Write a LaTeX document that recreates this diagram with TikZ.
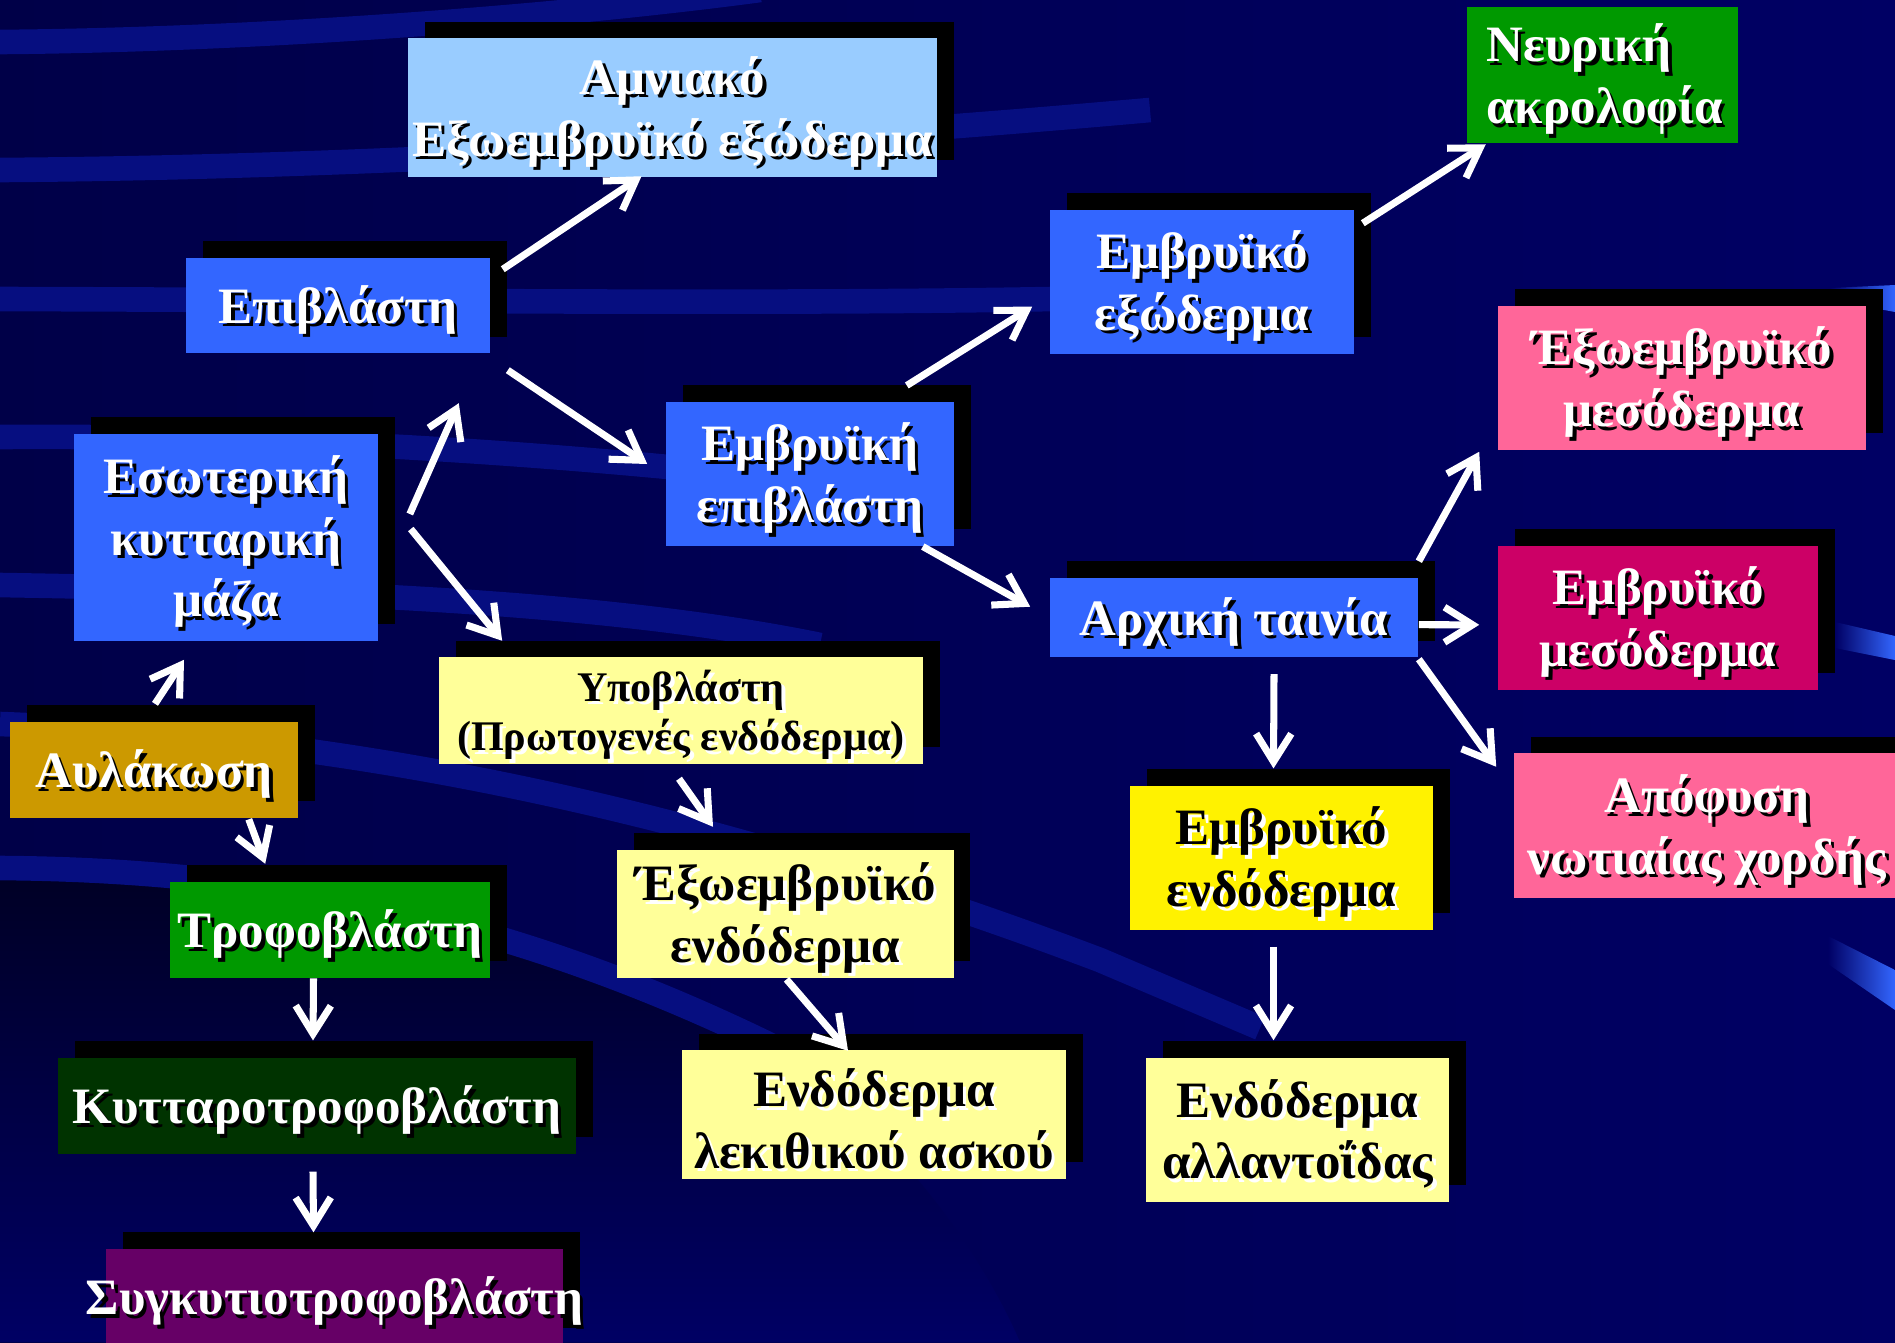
\documentclass[tikz,border=0pt]{standalone}
\usepackage{fontspec}
\setmainfont{Liberation Serif}
\usetikzlibrary{arrows.meta,shadows}
\definecolor{bgnavy}{RGB}{0,0,100}
\definecolor{bgdeep}{RGB}{0,0,72}
\definecolor{bgband}{RGB}{6,14,128}
\definecolor{bgdark}{RGB}{0,0,38}
\definecolor{boxblue}{HTML}{3366FF}
\definecolor{skyblue}{HTML}{99CCFF}
\definecolor{leafgreen}{HTML}{009900}
\definecolor{rosepink}{HTML}{FF6699}
\definecolor{crimson}{HTML}{CC0066}
\definecolor{paleyellow}{HTML}{FFFF99}
\definecolor{goldbox}{HTML}{CC9900}
\definecolor{darkgreen}{HTML}{003300}
\definecolor{plum}{HTML}{660066}
\colorlet{tshc}{black}
% text with a small drop shadow, set a little low
\newcommand\tsh[1]{\leavevmode\raisebox{-1.7pt}[\height][\depth]{\rlap{\kern1pt\raisebox{-1pt}{\color{tshc}#1}}#1}}
\begin{document}
\begin{tikzpicture}[x=0.01cm,y=-0.01cm]
\tikzstyle{bx} = [rectangle,inner sep=0pt,align=center,text=white,
  font=\bfseries\fontsize{14.5}{17.5}\selectfont,
  general shadow={fill=black,shadow xshift=4.8pt,shadow yshift=4.8pt}] %box
\tikzstyle{dk} = [text=black,execute at begin node={\colorlet{tshc}{white}}] %dark text
\tikzstyle{ar} = [white,line width=2pt,-{Straight Barb[length=8pt,width=10pt]}] %arrow
\tikzstyle{band} = [bgband,line width=7pt] %background band
\clip (0,0) rectangle (1895,1342);
% background
\shade[left color=bgdeep,right color=bgnavy] (0,0) rectangle (1895,1342);
\draw[band] (0,42) .. controls (250,40) and (550,18) .. (760,-10);
\draw[band] (0,170) .. controls (300,168) and (700,150) .. (1150,110);
\draw[band] (0,299) .. controls (400,300) and (800,305) .. (1100,298);
\draw[band] (0,437) .. controls (300,435) and (550,455) .. (720,472);
\draw[band] (0,585) .. controls (300,590) and (600,600) .. (820,645);
\draw[band] (0,724) .. controls (300,735) and (650,790) .. (1100,960) -- (1260,1028);
\shade[top color=bgdark,bottom color=bgnavy]
  (0,880) .. controls (300,882) and (550,940) .. (800,1070)
  .. controls (900,1140) and (980,1250) .. (1020,1342) -- (0,1342) -- cycle;
\draw[band] (0,868) .. controls (300,870) and (550,930) .. (820,1070);
\shade[left color=bgnavy,right color=boxblue] (1830,288) -- (1895,285) -- (1895,312) -- (1830,300) -- cycle;
\shade[left color=bgnavy,right color=boxblue] (1835,622) -- (1895,636) -- (1895,660) -- (1835,648) -- cycle;
\shade[left color=bgnavy,right color=boxblue] (1828,936) -- (1895,970) -- (1895,1010) -- (1828,964) -- cycle;
% boxes
\node[bx,fill=skyblue,minimum width=5.29cm,minimum height=1.38cm](amn)at(672.5,107.5){\tsh{Αμνιακό}\\\tsh{Εξωεμβρυϊκό εξώδερμα}};
\node[rectangle,fill=leafgreen,text=white,inner xsep=5.4pt,inner ysep=0pt,text width=66pt,align=left,
  minimum height=1.35cm,font=\bfseries\fontsize{14.5}{17.5}\selectfont](neur)at(1602.5,75){\tsh{Νευρική}\\\tsh{ακρολοφία}};
\node[bx,fill=boxblue,minimum width=3.04cm,minimum height=0.955cm](epi)at(338,305.7){\tsh{Επιβλάστη}};
\node[bx,fill=boxblue,minimum width=3.04cm,minimum height=1.435cm](emex)at(1202,281.7){\tsh{Εμβρυϊκό}\\\tsh{εξώδερμα}};
\node[bx,fill=rosepink,minimum width=3.68cm,minimum height=1.44cm](exmes)at(1682,378){\tsh{Έξωεμβρυϊκό}\\\tsh{μεσόδερμα}};
\node[bx,fill=boxblue,minimum width=3.04cm,minimum height=2.07cm](icm)at(226,537.5){\tsh{Εσωτερική}\\\tsh{κυτταρική}\\\tsh{μάζα}};
\node[bx,fill=boxblue,minimum width=2.88cm,minimum height=1.436cm](emepi)at(810,474){\tsh{Εμβρυϊκή}\\\tsh{επιβλάστη}};
\node[bx,fill=boxblue,minimum width=3.68cm,minimum height=0.795cm](prim)at(1234,617.7){\tsh{Αρχική ταινία}};
\node[bx,fill=crimson,minimum width=3.20cm,minimum height=1.436cm](emmes)at(1658,617.8){\tsh{Εμβρυϊκό}\\\tsh{μεσόδερμα}};
\node[bx,dk,fill=paleyellow,minimum width=4.84cm,minimum height=1.06cm,
  font=\bfseries\fontsize{12}{14}\selectfont](hypo)at(681,710.5){\tsh{Υποβλάστη}\\\tsh{(Πρωτογενές ενδόδερμα)}};
\node[bx,fill=goldbox,minimum width=2.88cm,minimum height=0.955cm](avl)at(154,769.8){\tsh{Αυλάκωση}};
\node[bx,fill=rosepink,minimum width=3.86cm,minimum height=1.44cm](apof)at(1707,825.5){\tsh{Απόφυση}\\\tsh{νωτιαίας χορδής}};
\node[bx,dk,fill=paleyellow,minimum width=3.36cm,minimum height=1.276cm](exend)at(785.5,913.8){\tsh{Έξωεμβρυϊκό}\\\tsh{ενδόδερμα}};
\node[bx,dk,fill=yellow,minimum width=3.03cm,minimum height=1.437cm](emend)at(1281.5,858){\tsh{Εμβρυϊκό}\\\tsh{ενδόδερμα}};
\node[bx,fill=leafgreen,minimum width=3.20cm,minimum height=0.956cm](trof)at(330,929.8){\tsh{Τροφοβλάστη}};
\node[bx,fill=darkgreen,minimum width=5.18cm,minimum height=0.957cm](cyto)at(317,1106){\tsh{Κυτταροτροφοβλάστη}};
\node[bx,dk,fill=paleyellow,minimum width=3.84cm,minimum height=1.28cm](yolk)at(874,1114.5){\tsh{Ενδόδερμα}\\\tsh{λεκιθικού ασκού}};
\node[bx,dk,fill=paleyellow,minimum width=3.03cm,minimum height=1.436cm](allant)at(1297.5,1129.8){\tsh{Ενδόδερμα}\\\tsh{αλλαντοΐδας}};
\node[bx,fill=plum,minimum width=4.57cm,minimum height=0.96cm](syn)at(334.5,1297){\makebox[0pt]{\tsh{Συγκυτιοτροφοβλάστη}}};
% arrows
\draw[ar]([shift={(12,12)}]epi.north east)--([shift={(-31,-1)}]amn.south);
\draw[ar]([shift={(31,-23.5)}]icm.east)--([shift={(-32,49)}]epi.south east);
\draw[ar]([shift={(32,-8.5)}]icm.east)--([shift={(64,-16)}]hypo.north west);
\draw[ar]([shift={(17,16)}]epi.south east)--([shift={(-18,-10)}]emepi.west);
\draw[ar]([shift={(-48,-16)}]emepi.north east)--([shift={(-17,25)}]emex.west);
\draw[ar]([shift={(-32,0)}]emepi.south east)--([shift={(-19,-11)}]prim.west);
\draw[ar]([shift={(8,14)}]emex.north east)--([shift={(19,1)}]neur.south west);
\draw[ar]([shift={(0,-16)}]prim.north east)--([shift={(-18,1)}]exmes.south west);
\draw[ar]([shift={(0,7)}]prim.east)--([shift={(-18,7)}]emmes.west);
\draw[ar]([shift={(0,1)}]prim.south east)--([shift={(-17,14)}]apof.north west);
\draw[ar]([shift={(40,16)}]prim.south)--([shift={(-8,-17)}]emend.north);
\draw[ar]([shift={(-8,16)}]emend.south)--([shift={(-24,-17)}]allant.north);
\draw[ar]([shift={(-2,14.5)}]hypo.south)--([shift={(-72.5,-22.5)}]exend.north);
\draw[ar]([shift={(1,1)}]exend.south)--([shift={(-26,1)}]yolk.north);
\draw[ar]([shift={(1,-17.5)}]avl.north)--([shift={(-42,18)}]icm.south);
\draw[ar]([shift={(-50,1)}]avl.south east)--([shift={(96,-17.5)}]trof.north west);
\draw[ar]([shift={(-16.5,0)}]trof.south)--([shift={(-4,-17)}]cyto.north);
\draw[ar]([shift={(-4,17)}]cyto.south)--([shift={(-21,-16)}]syn.north);
\end{tikzpicture}
\end{document}
